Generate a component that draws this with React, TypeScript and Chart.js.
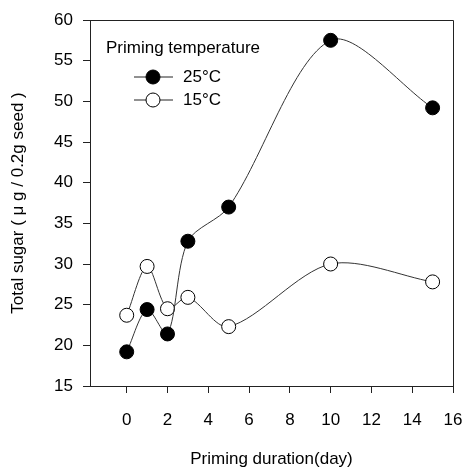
import React, { useEffect, useRef } from "react";
import { Chart, registerables } from "chart.js";

Chart.register(...registerables);

const days = [0, 1, 2, 3, 5, 10, 15];
const sugar25 = [19.2, 24.4, 21.4, 32.8, 37.0, 57.5, 49.2];
const sugar15 = [23.7, 29.7, 24.5, 25.9, 22.3, 30.0, 27.8];
const xTicks = [0, 2, 4, 6, 8, 10, 12, 14, 16];
const seriesLabels = ["25°C", "15°C"];
const legendTitle = "Priming temperature";
const xTitle = "Priming duration(day)";
const yTitle = "Total sugar ( μ g / 0.2g seed )";

const FONT = "'Liberation Sans', Arial, sans-serif";

const framePlugin = {
  id: "frame",
  afterDraw(chart: any) {
    const { ctx, chartArea } = chart;
    ctx.save();
    ctx.strokeStyle = "#222";
    ctx.lineWidth = 1;
    ctx.beginPath();
    ctx.moveTo(chartArea.left, chartArea.top + 0.5);
    ctx.lineTo(chartArea.right + 0.5, chartArea.top + 0.5);
    ctx.lineTo(chartArea.right + 0.5, chartArea.bottom);
    ctx.stroke();

    // legend
    const x0 = 106;
    ctx.fillStyle = "#000";
    ctx.font = `17px ${FONT}`;
    ctx.textBaseline = "middle";
    ctx.textAlign = "left";
    ctx.fillText(legendTitle, x0, 48);
    const rows = [77, 100];
    chart.data.datasets.forEach((ds: any, i: number) => {
      const y = rows[i];
      ctx.strokeStyle = "#222";
      ctx.lineWidth = 1;
      ctx.beginPath();
      ctx.moveTo(134, y);
      ctx.lineTo(173, y);
      ctx.stroke();
      ctx.beginPath();
      ctx.arc(153, y, 7, 0, Math.PI * 2);
      ctx.fillStyle = ds.pointBackgroundColor;
      ctx.fill();
      ctx.strokeStyle = "#000";
      ctx.stroke();
      ctx.fillStyle = "#000";
      ctx.fillText(ds.label, 183, y);
    });
    ctx.restore();
  },
};

export default function App() {
  const ref = useRef<HTMLCanvasElement>(null);
  useEffect(() => {
    document.body.style.margin = "0";
    const chart = new Chart(ref.current!, {
      type: "line",
      data: {
        datasets: [
          {
            label: seriesLabels[0],
            data: days.map((d, i) => ({ x: d, y: sugar25[i] })),
            borderColor: "#333",
            borderWidth: 1,
            pointBackgroundColor: "#000",
            pointBorderColor: "#000",
            pointBorderWidth: 1,
            pointRadius: 7,
            tension: 0.3,
          },
          {
            label: seriesLabels[1],
            data: days.map((d, i) => ({ x: d, y: sugar15[i] })),
            borderColor: "#333",
            borderWidth: 1,
            pointBackgroundColor: "#fff",
            pointBorderColor: "#000",
            pointBorderWidth: 1,
            pointRadius: 7,
            tension: 0.3,
          },
        ],
      },
      options: {
        animation: false,
        responsive: false,
        layout: { padding: { top: 20, right: 12, left: 0, bottom: 0 } },
        plugins: { legend: { display: false }, tooltip: { enabled: false } },
        scales: {
          x: {
            type: "linear",
            min: -1.8,
            max: 16,
            afterBuildTicks: (s: any) => {
              s.ticks = xTicks.map((v) => ({ value: v }));
            },
            afterFit: (s: any) => {
              s.height = 87;
              s.paddingLeft = 0;
              s.paddingRight = 0;
            },
            grid: { drawOnChartArea: false, tickLength: 7, color: "#222" },
            border: { color: "#222", width: 1 },
            ticks: {
              color: "#000",
              font: { size: 17, family: FONT },
              padding: 17,
              maxRotation: 0,
            },
            title: {
              display: true,
              text: xTitle,
              color: "#000",
              font: { size: 17, family: FONT },
              padding: { top: 0, bottom: 3 },
            },
          },
          y: {
            min: 15,
            max: 60,
            ticks: {
              stepSize: 5,
              color: "#000",
              font: { size: 17, family: FONT },
              padding: 10,
            },
            afterFit: (s: any) => {
              s.width = 90;
              s.paddingTop = 0;
              s.paddingBottom = 0;
            },
            grid: { drawOnChartArea: false, tickLength: 7, color: "#222" },
            border: { color: "#222", width: 1 },
            title: {
              display: true,
              text: yTitle,
              color: "#000",
              font: { size: 17, family: FONT },
              padding: { top: 8, bottom: 0 },
            },
          },
        },
      },
      plugins: [framePlugin],
    } as any);
    return () => chart.destroy();
  }, []);
  return (
    <div style={{ width: 465, height: 473 }}>
      <canvas ref={ref} width={465} height={473} style={{ display: "block" }} />
    </div>
  );
}
